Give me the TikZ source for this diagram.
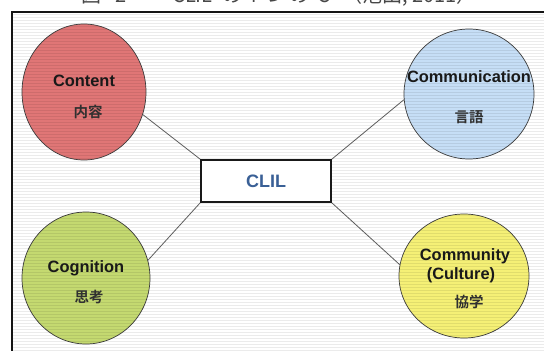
\documentclass[tikz,border=0pt]{standalone}
\usepackage{fontspec}
\setmainfont{Liberation Sans}
\newfontfamily\cjk{Noto Sans CJK JP}[BoldFont=* Bold]
\usetikzlibrary{shapes.geometric}

\definecolor{framec}{RGB}{20,20,20}
\definecolor{contentc}{RGB}{224,118,118}
\definecolor{commc}{RGB}{198,222,246}
\definecolor{cognc}{RGB}{196,217,112}
\definecolor{cultc}{RGB}{245,240,118}
\definecolor{clilblue}{RGB}{58,96,150}
\definecolor{linkc}{RGB}{95,95,95}
\definecolor{inkc}{RGB}{25,25,25}

\tikzset{
  bubble/.style={ellipse, draw=inkc!85, line width=0.7pt, inner sep=0pt},
  entitle/.style={font=\fontsize{16.4}{18}\selectfont\bfseries, text=inkc, inner sep=0pt, anchor=base},
  jatitle/.style={font=\cjk\fontsize{14.5}{16}\selectfont\bfseries, text=inkc!90, inner sep=0pt},
  hub/.style={draw=inkc, line width=1.6pt, fill=white, minimum width=130pt, minimum height=42pt, inner sep=0pt},
  link/.style={draw=linkc, line width=0.8pt},
  stripe/.style={black, opacity=0.08, line width=1pt}
}

\begin{document}
\begin{tikzpicture}[x=1pt, y=-1pt]
  \useasboundingbox (0,0) rectangle (544,351);
  \clip (0,0) rectangle (544,351);

  % figure caption, running above the top edge
  \node[font=\cjk\fontsize{20}{22}\selectfont, text=inkc!80, anchor=base west, inner sep=0pt]
    (caption) at (81,2.5) {図\hspace{14pt}2\hspace{46pt}CLIL\hspace{10pt}の\hspace{4pt}4\hspace{6pt}つ\hspace{6pt}の\hspace{8pt}C\hspace{12pt}（池田, 2011）};

  % frame
  \fill[white] (12,12) rectangle (560,370);

  % the four Cs
  \node[bubble, fill=contentc, minimum width=124pt, minimum height=136pt] (content) at (84,92) {};
  \node[bubble, fill=commc,    minimum width=130pt, minimum height=130pt] (comm)    at (469,94) {};
  \node[bubble, fill=cognc,    minimum width=128pt, minimum height=132pt] (cogn)    at (86,278) {};
  \node[bubble, fill=cultc,    minimum width=130pt, minimum height=124pt] (cult)    at (464,276) {};

  % centre box
  \node[hub] (clil) at (266,181) {};

  % connectors from the box corners to the circles
  \draw[link] (clil.north west) -- (content.-21);
  \draw[link] (clil.north east) -- (comm.185);
  \draw[link] (clil.south west) -- (cogn.16);
  \draw[link] (clil.south east) -- (cult.170);

  % horizontal line texture
  \foreach \yy in {14,17,...,351} {
    \draw[stripe] (13,\yy) -- (544,\yy);
  }

  % centre box drawn again above the texture
  \node[hub] (clilfront) at (266,181) {};
  \node[font=\fontsize{18}{20}\selectfont\bfseries, text=clilblue, inner sep=0pt] (cliltext) at (266,181) {CLIL};

  \draw[framec, line width=1.6pt] (12,370) -- (12,12) -- (560,12);

  % labels
  \node[entitle] (contentEN) at (84,86.7) {Content};
  \node[jatitle] (contentJA) at (88,112) {内容};

  \node[entitle] (commEN) at (469,82) {Communication};
  \node[jatitle] (commJA) at (469,117.5) {言語};

  \node[entitle] (cognEN) at (86,272) {Cognition};
  \node[jatitle] (cognJA) at (89,297) {思考};

  \node[entitle] (cultEN) at (465,260) {Community};
  \node[entitle] (cultEN2) at (461,279) {(Culture)};
  \node[jatitle] (cultJA) at (469,302) {協学};
\end{tikzpicture}
\end{document}
